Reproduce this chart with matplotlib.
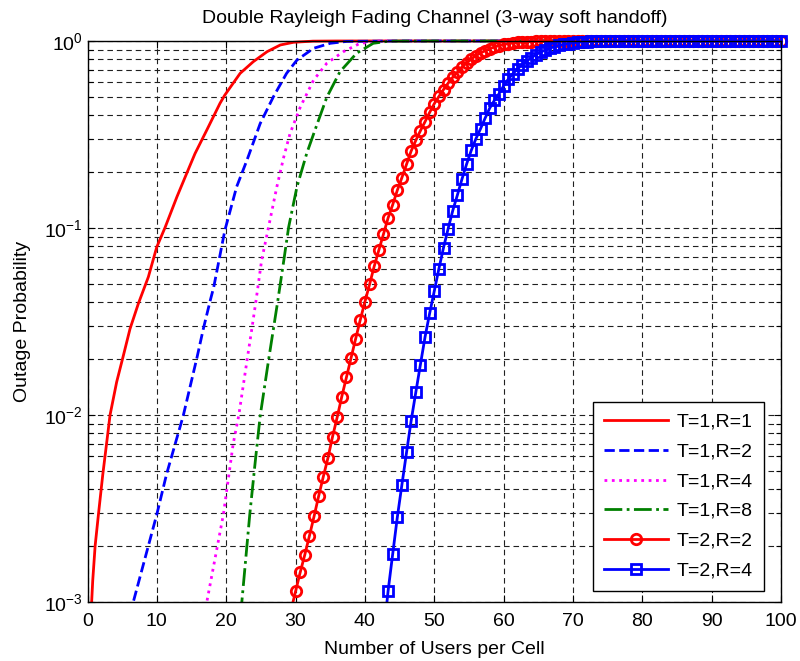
import numpy as np
import matplotlib
matplotlib.use("Agg")
import matplotlib.pyplot as plt
from matplotlib.patches import Rectangle

plt.rcParams['font.family'] = ['Liberation Sans', 'DejaVu Sans']
plt.rcParams['mathtext.fontset'] = 'custom'
plt.rcParams['mathtext.rm'] = 'Liberation Sans'
plt.rcParams['mathtext.it'] = 'Liberation Sans:italic'

# Outage probability vs. number of users per cell
users_t1r1 = [0.5, 0.75, 1.1, 1.6, 2.2, 2.7, 3.25, 4.2, 5.2, 6.13, 7.33, 8.77, 9.98,
              11.2, 12.9, 14.5, 15.5, 17.2, 19.1, 19.8, 22.0, 23.9, 25.9, 27.8,
              29.7, 32.5, 36.0, 100.0]
outage_t1r1 = [8.5e-4, 1.3e-3, 2.0e-3, 3.0e-3, 4.8e-3, 6.8e-3, 1.0e-2, 1.5e-2, 2.1e-2,
               2.89e-2, 3.94e-2, 5.47e-2, 7.9e-2, 0.101, 0.147, 0.204, 0.25, 0.334,
               0.464, 0.514, 0.671, 0.775, 0.877, 0.952, 0.984, 0.998, 1.0, 1.0]

users_t1r2 = [6.3, 6.6, 10.0, 11.4, 13.8, 15.8, 16.7, 17.7, 18.2, 19.8, 21.5, 23.0,
              24.9, 26.8, 28.7, 30.2, 32.6, 35.0, 37.4, 45.0, 100.0]
outage_t1r2 = [8.5e-4, 1.0e-3, 2.95e-3, 4.83e-3, 9.9e-3, 2.04e-2, 2.89e-2, 4.1e-2,
               4.83e-2, 9.7e-2, 0.166, 0.231, 0.362, 0.503, 0.671, 0.791, 0.914,
               0.972, 0.995, 1.0, 1.0]

users_t1r4 = [17.0, 17.2, 19.6, 21.0, 21.8, 23.0, 23.7, 24.3, 25.1, 26.1, 27.3, 28.3,
              29.2, 30.7, 32.6, 34.5, 36.9, 39.3, 42.0, 50.0, 100.0]
outage_t1r4 = [8.5e-4, 1.0e-3, 2.95e-3, 7.0e-3, 9.9e-3, 1.96e-2, 2.9e-2, 4.1e-2,
               6.7e-2, 0.101, 0.166, 0.24, 0.32, 0.445, 0.618, 0.76, 0.877, 0.972,
               0.998, 1.0, 1.0]

users_t1r8 = [22.0, 22.25, 23.4, 24.2, 24.9, 26.1, 27.4, 28.3, 29.0, 30.2, 31.6, 32.8,
              34.5, 36.4, 38.8, 41.2, 43.5, 50.0, 100.0]
outage_t1r8 = [8.5e-4, 1.0e-3, 2.95e-3, 5.7e-3, 9.9e-3, 1.96e-2, 4.0e-2, 6.7e-2,
               0.101, 0.166, 0.25, 0.334, 0.5, 0.685, 0.86, 0.972, 0.998, 1.0, 1.0]

# Simulation grid for the marked curves: 151 user counts from 0 to 100
users_grid = np.linspace(0, 100, 151)

outage_t2r2 = [9.0e-4, 1.14e-3, 1.44e-3, 1.79e-3, 2.26e-3, 2.87e-3, 3.69e-3, 4.68e-3,
               5.89e-3, 7.66e-3, 9.72e-3, 1.255e-2, 1.59e-2, 2.02e-2, 2.56e-2,
               3.23e-2, 4.03e-2, 4.99e-2, 6.23e-2, 7.6e-2, 9.25e-2, 0.113, 0.133,
               0.159, 0.186, 0.219, 0.258, 0.294, 0.331, 0.370, 0.415, 0.462, 0.505,
               0.550, 0.595, 0.640, 0.680, 0.725, 0.765, 0.800, 0.835, 0.862, 0.888,
               0.910, 0.929, 0.945, 0.958, 0.968, 0.976, 0.982, 0.987, 0.991, 0.993,
               0.995, 0.997, 0.998, 0.9985, 0.999, 0.9995,
               1.0, 1.0, 1.0, 1.0, 1.0, 1.0, 1.0, 1.0, 1.0, 1.0, 1.0, 1.0,
               1.0, 1.0, 1.0, 1.0, 1.0, 1.0, 1.0, 1.0, 1.0, 1.0, 1.0, 1.0,
               1.0, 1.0, 1.0, 1.0, 1.0, 1.0, 1.0, 1.0, 1.0, 1.0, 1.0, 1.0,
               1.0, 1.0, 1.0, 1.0, 1.0, 1.0, 1.0, 1.0, 1.0, 1.0, 1.0, 1.0]

outage_t2r4 = [6.5e-4, 1.14e-3, 1.80e-3, 2.83e-3, 4.24e-3, 6.31e-3, 9.33e-3, 1.32e-2,
               1.86e-2, 2.61e-2, 3.50e-2, 4.60e-2, 6.06e-2, 7.85e-2, 9.93e-2, 0.124,
               0.150, 0.183, 0.220, 0.260, 0.300, 0.339, 0.387, 0.438, 0.481, 0.522,
               0.575, 0.625, 0.668, 0.710, 0.745, 0.780, 0.815, 0.845, 0.872, 0.895,
               0.915, 0.932, 0.947, 0.959, 0.969, 0.977, 0.983, 0.988, 0.992, 0.995,
               0.997, 0.998, 0.999, 0.9995,
               1.0, 1.0, 1.0, 1.0, 1.0, 1.0, 1.0, 1.0, 1.0, 1.0, 1.0, 1.0,
               1.0, 1.0, 1.0, 1.0, 1.0, 1.0, 1.0, 1.0, 1.0, 1.0, 1.0, 1.0,
               1.0, 1.0, 1.0, 1.0, 1.0, 1.0, 1.0, 1.0, 1.0, 1.0, 1.0, 1.0, 1.0]

labels = ['T=1,R=1', 'T=1,R=2', 'T=1,R=4', 'T=1,R=8', 'T=2,R=2', 'T=2,R=4']

fig = plt.figure(figsize=(8.0, 6.61), dpi=100)
ax = fig.add_axes([0.1094, 0.0893, 0.8669, 0.8487])

lw = 2.0
ax.plot(users_t1r1, outage_t1r1, color='#ff0000', lw=lw, ls='-', label=labels[0])
ax.plot(users_t1r2, outage_t1r2, color='#0000ff', lw=lw, ls='--', label=labels[1])
ax.plot(users_t1r4, outage_t1r4, color='#ff00ff', lw=lw, ls=':', label=labels[2])
ax.plot(users_t1r8, outage_t1r8, color='#008000', lw=lw, ls='-.', label=labels[3])
ax.plot(users_grid[-len(outage_t2r2):], outage_t2r2, color='#ff0000', lw=lw, ls='-',
        marker='o', ms=7.5, mew=2.0, mfc='none', label=labels[4])
ax.plot(users_grid[-len(outage_t2r4):], outage_t2r4, color='#0000ff', lw=lw, ls='-',
        marker='s', ms=7.5, mew=2.0, mfc='none', label=labels[5])

# let lines and markers sitting on the top/right edge show fully
clip = Rectangle((0, 0), 1.03, 1.03, transform=ax.transAxes, facecolor='none', edgecolor='none')
ax.add_patch(clip)
for ln in ax.get_lines():
    ln.set_clip_path(clip)

ax.set_yscale('log')
ax.set_xlim(0, 100)
ax.set_ylim(1e-3, 1)
ax.set_xticks(np.arange(0, 101, 10))
ax.set_axisbelow(True)

ax.grid(True, which='major', axis='both', color='#202020', ls=(0, (5, 3.5)), lw=0.8)
ax.grid(True, which='minor', axis='y', color='#202020', ls=(0, (5, 3.5)), lw=0.8)

ax.tick_params(which='both', direction='in', top=True, right=True, labelsize=14,
               width=0.8, color='black')
ax.tick_params(which='major', length=5)
ax.tick_params(which='minor', length=3.5)
ax.tick_params(axis='x', pad=8)
for sp in ax.spines.values():
    sp.set_linewidth(1.0)

ax.set_xlabel('Number of Users per Cell', fontsize=14, labelpad=8)
ax.set_ylabel('Outage Probability', fontsize=14, labelpad=9)
ax.set_title('Double Rayleigh Fading Channel (3-way soft handoff)', fontsize=14, pad=13)

leg = ax.legend(loc='lower right', bbox_to_anchor=(0.9755, 0.0196), fontsize=14,
                fancybox=False, framealpha=1, edgecolor='black', handlelength=3.3,
                handletextpad=0.4, labelspacing=0.62, borderpad=0.6,
                borderaxespad=0.0)
leg.get_frame().set_linewidth(1.0)

fig.savefig('out.png', dpi=100, facecolor='white')
